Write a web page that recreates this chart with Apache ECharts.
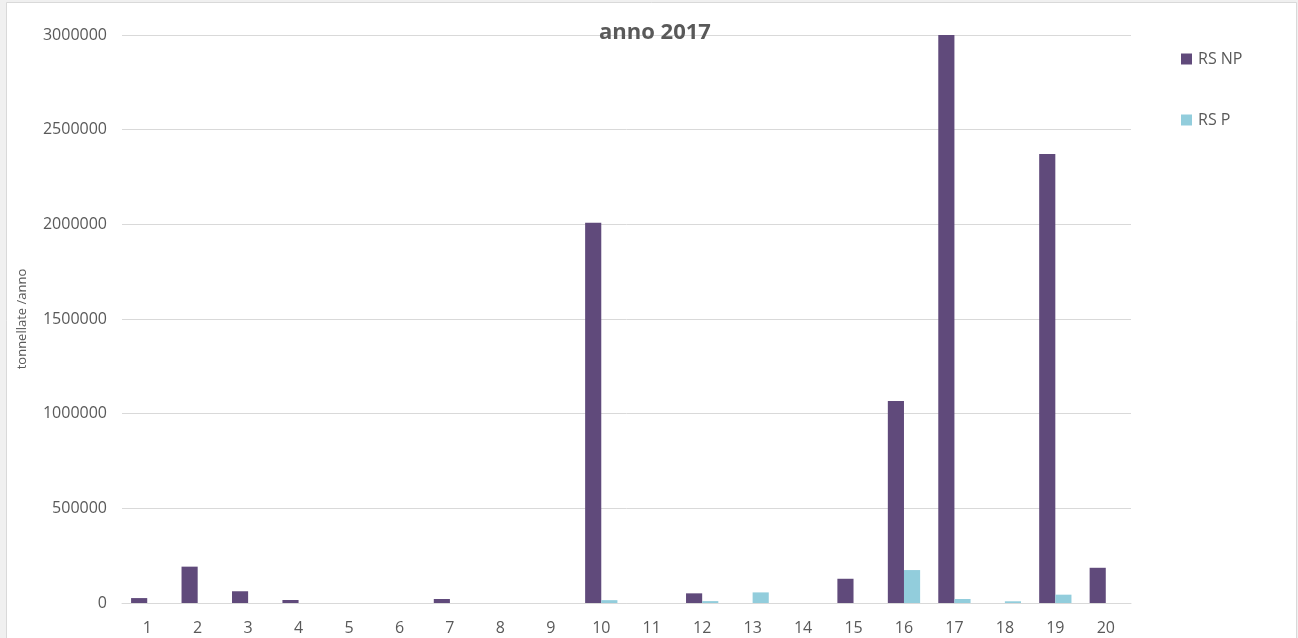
<!DOCTYPE html>
<html>
<head>
<meta charset="utf-8">
<script src="https://cdn.jsdelivr.net/npm/echarts@6/dist/echarts.min.js"></script>
<style>
  html, body { margin: 0; padding: 0; background: #f0f0f0; }
  #chart { width: 1298px; height: 638px; }
</style>
</head>
<body>
<div id="chart"></div>
<script>
// Categories (1..20) and yearly tonnage per series
const categories = ['1','2','3','4','5','6','7','8','9','10','11','12','13','14','15','16','17','18','19','20'];
const rsNP = [26000, 192000, 62000, 16000, 0, 0, 21000, 0, 0, 2008000, 0, 51000, 0, 0, 128000, 1067000, 3000000, 0, 2372000, 186000];
const rsP  = [0, 0, 0, 0, 0, 0, 0, 0, 0, 15000, 0, 10000, 56000, 0, 0, 174000, 21000, 9000, 44000, 0];
const yTicks = { min: 0, max: 3000000, interval: 500000 };

const chart = echarts.init(document.getElementById('chart'), null, { renderer: 'canvas' });
const font = '"Open Sans", "Noto Sans", sans-serif';

chart.setOption({
  backgroundColor: 'transparent',
  animation: false,
  graphic: [
    {
      type: 'rect', z: -10, silent: true,
      shape: { x: 6.5, y: 2.5, width: 1290, height: 640 },
      style: { fill: '#ffffff', stroke: '#d9d9d9', lineWidth: 1 }
    }
  ],
  title: {
    text: 'anno 2017',
    left: 650, top: 17, textAlign: 'center',
    textStyle: { fontFamily: font, fontSize: 22, fontWeight: 'bold', color: '#595959' }
  },
  legend: {
    orient: 'vertical',
    left: 1176, top: 46,
    itemWidth: 11, itemHeight: 11, itemGap: 45,
    icon: 'rect',
    textStyle: { fontFamily: font, fontSize: 16, color: '#595959', padding: [0, 0, 0, 1] },
    data: ['RS NP', 'RS P']
  },
  grid: { left: 122, right: 167, top: 35, bottom: 35, containLabel: false },
  xAxis: {
    type: 'category',
    data: categories,
    axisLine: { show: true, lineStyle: { color: '#d9d9d9', width: 1 } },
    axisTick: { show: false },
    axisLabel: { fontFamily: font, fontSize: 16, color: '#595959', margin: 17 }
  },
  yAxis: {
    type: 'value',
    min: yTicks.min, max: yTicks.max, interval: yTicks.interval,
    name: 'tonnellate /anno',
    nameLocation: 'middle',
    nameGap: 93,
    nameTextStyle: { fontFamily: font, fontSize: 13, color: '#595959' },
    axisLine: { show: false },
    axisTick: { show: false },
    splitLine: { lineStyle: { color: '#d9d9d9', width: 1 } },
    axisLabel: {
      fontFamily: font, fontSize: 16, color: '#595959', margin: 15,
      formatter: (v) => String(v)
    }
  },
  series: [
    {
      name: 'RS NP', type: 'bar', data: rsNP,
      itemStyle: { color: '#604a7b' },
      barGap: '0%', barCategoryGap: '36%'
    },
    {
      name: 'RS P', type: 'bar', data: rsP,
      itemStyle: { color: '#92cddc' },
      barGap: '0%', barCategoryGap: '36%'
    }
  ]
});
</script>
</body>
</html>
